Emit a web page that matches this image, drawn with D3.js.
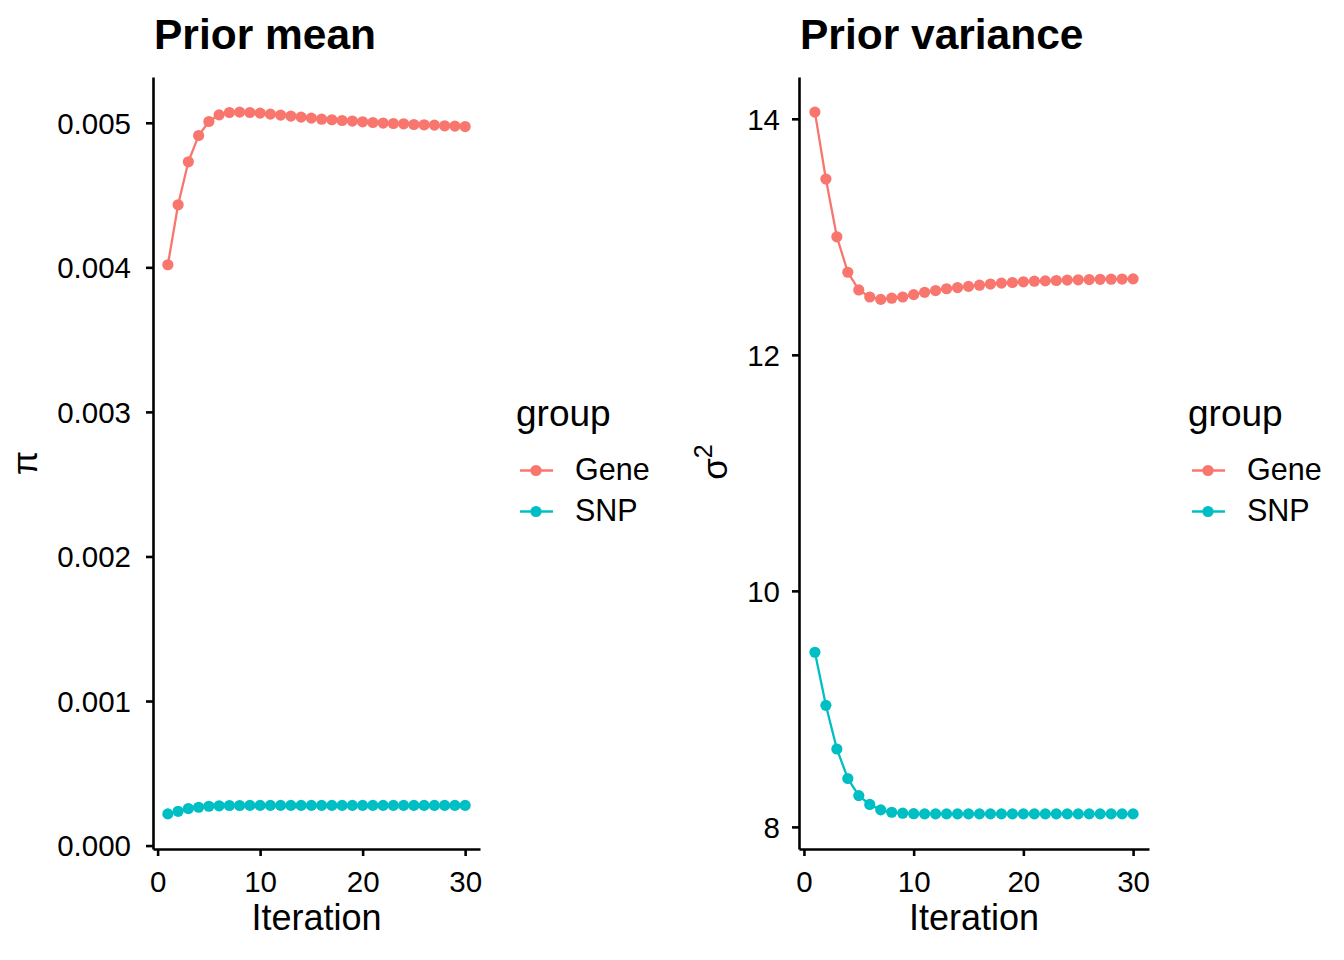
<!DOCTYPE html>
<html>
<head>
<meta charset="utf-8">
<script src="https://cdn.jsdelivr.net/npm/d3@7"></script>
<style>
  body { margin: 0; background: #fff; }
  text { font-family: "Liberation Sans", Arial, Helvetica, sans-serif; fill: #000; }
</style>
</head>
<body>
<script>
// canvas
var w = 1344;
var h = 960;

// data
var iterations = d3.range(1, 31);
var groups = ["Gene", "SNP"];
var groupColors = ["#F8766D", "#00BFC4"];

var meanGene = [0.004018, 0.004433, 0.004730, 0.004912, 0.005009, 0.005055, 0.005071, 0.005074, 0.005071, 0.005067,
                0.005060, 0.005053, 0.005046, 0.005039, 0.005032, 0.005025, 0.005021, 0.005016, 0.005012, 0.005007,
                0.005002, 0.004998, 0.004995, 0.004993, 0.004988, 0.004986, 0.004984, 0.004979, 0.004977, 0.004974];
var meanSNP = [0.000219, 0.000237, 0.000256, 0.000265, 0.000272, 0.000275, 0.000277, 0.000277, 0.000278, 0.000278,
               0.000278, 0.000278, 0.000278, 0.000278, 0.000278, 0.000278, 0.000278, 0.000278, 0.000278, 0.000278,
               0.000278, 0.000278, 0.000278, 0.000278, 0.000278, 0.000278, 0.000278, 0.000278, 0.000278, 0.000278];

var varGene = [14.057, 13.49, 13.00, 12.70, 12.55, 12.49, 12.47, 12.48, 12.49, 12.51,
               12.53, 12.545, 12.56, 12.57, 12.58, 12.59, 12.60, 12.608, 12.613, 12.619,
               12.624, 12.627, 12.63, 12.633, 12.636, 12.638, 12.64, 12.641, 12.642, 12.644];
var varSNP = [9.48, 9.03, 8.66, 8.41, 8.265, 8.19, 8.144, 8.124, 8.116, 8.112,
              8.11, 8.11, 8.11, 8.11, 8.11, 8.11, 8.11, 8.11, 8.11, 8.11,
              8.11, 8.11, 8.11, 8.11, 8.11, 8.11, 8.11, 8.11, 8.11, 8.11];

var xTicks = [0, 10, 20, 30];
var meanTicks = [0, 0.001, 0.002, 0.003, 0.004, 0.005];
var varTicks = [8, 10, 12, 14];

// panel magic numbers
var panelTop = 77;
var panelBottom = 849;
var tickFont = 29.5;
var titleFont = 36;

var svg = d3.select("body").append("svg")
            .attr("width", w)
            .attr("height", h);

function expand(lo, hi, f) {
    var d = (hi - lo) * f;
    return [lo - d, hi + d];
}

function drawPanel(opt) {
    var series = [opt.gene, opt.snp];
    var all = opt.gene.concat(opt.snp);

    var x = d3.scaleLinear()
              .domain(expand(1, 30, 0.05))
              .range([opt.left, opt.right]);
    var y = d3.scaleLinear()
              .domain(expand(d3.min(all), d3.max(all), 0.05))
              .range([panelBottom, panelTop]);

    var g = svg.append("g");

    // axes
    var xAxis = g.append("g")
        .attr("transform", "translate(0," + panelBottom + ")")
        .call(d3.axisBottom(x).tickValues(xTicks).tickSize(7).tickSizeOuter(0));
    var yAxis = g.append("g")
        .attr("transform", "translate(" + opt.left + ",0)")
        .call(d3.axisLeft(y).tickValues(opt.ticks).tickFormat(opt.fmt).tickSize(7).tickPadding(opt.pad).tickSizeOuter(0));

    [xAxis, yAxis].forEach(function(a) {
        a.select(".domain").attr("stroke", "#000").attr("stroke-width", 2.6);
        a.selectAll(".tick line").attr("stroke", "#000").attr("stroke-width", 2.6);
        a.selectAll(".tick text").attr("font-size", tickFont).attr("fill", "#000")
         .style("font-family", "'Liberation Sans', Arial, sans-serif");
    });
    xAxis.selectAll(".tick text").attr("y", 43).attr("dy", 0);
    yAxis.selectAll(".tick text").attr("dy", "0.35em");

    // lines + points
    var line = d3.line()
                 .x(function(d, i) { return x(iterations[i]); })
                 .y(function(d) { return y(d); });

    series.forEach(function(s, k) {
        g.append("path")
         .datum(s)
         .attr("d", line)
         .attr("fill", "none")
         .attr("stroke", groupColors[k])
         .attr("stroke-width", 2.3);
        g.selectAll(null)
         .data(s)
         .enter()
         .append("circle")
         .attr("cx", function(d, i) { return x(iterations[i]); })
         .attr("cy", function(d) { return y(d); })
         .attr("r", 5.6)
         .attr("fill", groupColors[k]);
    });

    // title
    g.append("text")
     .attr("x", opt.left + 1)
     .attr("y", 49)
     .attr("font-size", 42.5)
     .attr("font-weight", "bold")
     .text(opt.title);

    // x title
    g.append("text")
     .attr("x", (opt.left + opt.right) / 2)
     .attr("y", 930)
     .attr("text-anchor", "middle")
     .attr("font-size", titleFont)
     .text("Iteration");

    // y title
    opt.yTitle(g);

    // legend
    var lg = g.append("g").attr("transform", "translate(" + opt.legendX + ",0)");
    lg.append("text")
      .attr("x", 0)
      .attr("y", 426)
      .attr("font-size", titleFont + 1)
      .text("group");
    groups.forEach(function(name, k) {
        var ky = 470.5 + k * 41;
        lg.append("line")
          .attr("x1", 4).attr("x2", 37)
          .attr("y1", ky).attr("y2", ky)
          .attr("stroke", groupColors[k])
          .attr("stroke-width", 2.3);
        lg.append("circle")
          .attr("cx", 20).attr("cy", ky)
          .attr("r", 5.6)
          .attr("fill", groupColors[k]);
        lg.append("text")
          .attr("x", 59)
          .attr("y", ky + 9.5)
          .attr("font-size", 30.5)
          .text(name);
    });
}

drawPanel({
    left: 153, right: 480,
    gene: meanGene, snp: meanSNP,
    ticks: meanTicks,
    fmt: d3.format(".3f"),
    pad: 15,
    title: "Prior mean",
    legendX: 516,
    yTitle: function(g) {
        g.append("text")
         .attr("transform", "translate(37,463) rotate(-90)")
         .attr("text-anchor", "middle")
         .attr("font-size", 35)
         .text("π");
    }
});

drawPanel({
    left: 799, right: 1149,
    gene: varGene, snp: varSNP,
    ticks: varTicks,
    fmt: d3.format("d"),
    pad: 12,
    title: "Prior variance",
    legendX: 1188,
    yTitle: function(g) {
        var t = g.append("text")
         .attr("transform", "translate(727,462) rotate(-90)")
         .attr("text-anchor", "middle")
         .attr("font-size", 35);
        t.append("tspan").text("σ");
        t.append("tspan").attr("dy", -15).attr("font-size", 25).text("2");
    }
});
</script>
</body>
</html>
